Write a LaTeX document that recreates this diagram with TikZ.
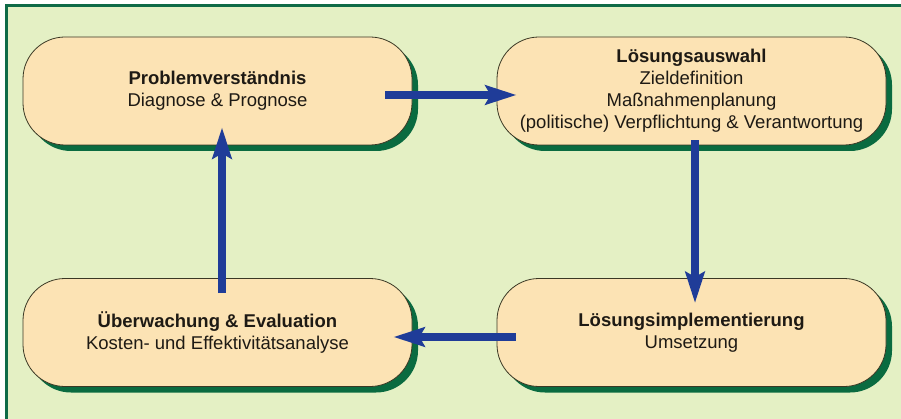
\documentclass[tikz,border=0pt]{standalone}
\usepackage{fontspec}
\setmainfont{Liberation Sans}
\usetikzlibrary{arrows.meta,shadows}
\definecolor{bggreen}{HTML}{E4F0C4}
\definecolor{framegreen}{HTML}{0F6B47}
\definecolor{shadowgreen}{HTML}{0A6B40}
\definecolor{boxfill}{HTML}{FCE3B4}
\definecolor{boxline}{HTML}{3A3824}
\definecolor{arrowblue}{HTML}{1F3C98}
\definecolor{txt}{HTML}{1E1A14}
\tikzset{
  phasebox/.style={draw=boxline, line width=0.8pt, fill=boxfill, rectangle,
    rounded corners=42pt, minimum width=389pt, minimum height=108pt,
    inner sep=0pt, align=center, text=txt,
    font=\fontsize{18.5}{22}\selectfont,
    general shadow={fill=shadowgreen, shadow xshift=6pt, shadow yshift=-6pt}},
  flow/.style={draw=arrowblue, line width=8pt,
    -{Stealth[length=31pt, width=19pt, inset=5pt]}}
}
\begin{document}
\begin{tikzpicture}[x=1pt, y=-1pt]
\useasboundingbox (0,0) rectangle (901,419);
\fill[white] (0,0) rectangle (901,419);
\fill[framegreen] (5,4) rectangle (901,419);
\fill[bggreen] (8,7) rectangle (901,419);

\node[phasebox] (b1) at (217.5,91) {\textbf{Problemverständnis}\\Diagnose \& Prognose};
\node[phasebox] (b2) at (691.5,91) {\textbf{Lösungsauswahl}\\Zieldefinition\\Maßnahmenplanung\\(politische) Verpflichtung \& Verantwortung};
\node[phasebox] (b3) at (217.5,332.5) {\textbf{Überwachung \& Evaluation}\\Kosten- und Effektivitätsanalyse};
\node[phasebox] (b4) at (691.5,332.5) {\textbf{Lösungsimplementierung}\\Umsetzung};

\coordinate (a1s) at ([xshift=-27pt, yshift=-4pt]b1.east);
\coordinate (a1e) at ([xshift=20pt, yshift=-4pt]b2.west);
\coordinate (a2s) at ([xshift=3.5pt, yshift=5pt]b2.south);
\coordinate (a2e) at ([xshift=3.5pt, yshift=-25pt]b4.north);
\coordinate (a3s) at ([xshift=19pt, yshift=-4.5pt]b4.west);
\coordinate (a3e) at ([xshift=-19pt, yshift=-4.5pt]b3.east);
\coordinate (a4s) at ([xshift=4.5pt, yshift=-15pt]b3.north);
\coordinate (a4e) at ([xshift=4.5pt, yshift=18pt]b1.south);

\draw[flow] (a1s) -- (a1e);
\draw[flow] (a2s) -- (a2e);
\draw[flow] (a3s) -- (a3e);
\draw[flow] (a4s) -- (a4e);
\end{tikzpicture}
\end{document}
